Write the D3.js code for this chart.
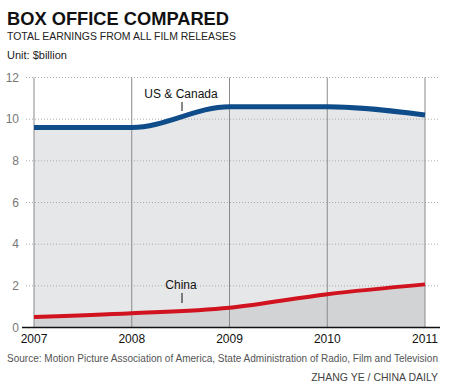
<!DOCTYPE html>
<html>
<head>
<meta charset="utf-8">
<script src="https://cdn.jsdelivr.net/npm/d3@7"></script>
<style>
  body { margin: 0; background: #fff; }
  svg { display: block; font-family: "Liberation Sans", Arial, sans-serif; }
</style>
</head>
<body>
<svg id="chart" width="450" height="387"></svg>
<script>
// data
var years = [2007, 2008, 2009, 2010, 2011];
var usCanada = [9.6, 9.6, 10.6, 10.6, 10.2];
var china = [0.5, 0.68, 0.95, 1.6, 2.07];
var yTicks = [0, 2, 4, 6, 8, 10, 12];

var svg = d3.select("#chart");

var x = d3.scaleLinear().domain([2007, 2011]).range([34, 425]);
var y = d3.scaleLinear().domain([0, 12]).range([327.5, 77.5]);

// headings
svg.append("text").attr("x", 7).attr("y", 25)
  .attr("font-size", 18).attr("font-weight", "bold").attr("fill", "#111")
  .attr("textLength", 222).attr("lengthAdjust", "spacingAndGlyphs")
  .text("BOX OFFICE COMPARED");
svg.append("text").attr("x", 7).attr("y", 39.5)
  .attr("font-size", 10.5).attr("fill", "#222")
  .attr("textLength", 229).attr("lengthAdjust", "spacingAndGlyphs")
  .text("TOTAL EARNINGS FROM ALL FILM RELEASES");
svg.append("text").attr("x", 7).attr("y", 59)
  .attr("font-size", 11).attr("fill", "#222")
  .text("Unit: $billion");

var usData = years.map(function(d, i) { return {year: d, v: usCanada[i]}; });
var cnData = years.map(function(d, i) { return {year: d, v: china[i]}; });

var area = d3.area()
  .x(function(d) { return x(d.year); })
  .y0(y(0))
  .y1(function(d) { return y(d.v); })
  .curve(d3.curveMonotoneX);
var line = d3.line()
  .x(function(d) { return x(d.year); })
  .y(function(d) { return y(d.v); })
  .curve(d3.curveMonotoneX);

svg.append("path").attr("d", area(usData)).attr("fill", "#e6e7e8");
svg.append("path").attr("d", area(cnData)).attr("fill", "#d2d3d5");

// dotted horizontal grid
svg.append("g").selectAll("line")
  .data(yTicks.filter(function(d) { return d > 0; }))
  .enter().append("line")
  .attr("x1", 26).attr("x2", 440)
  .attr("y1", function(d) { return y(d); })
  .attr("y2", function(d) { return y(d); })
  .attr("stroke", "#aaa").attr("stroke-width", 1)
  .attr("stroke-dasharray", "1,2");

// vertical year lines
svg.append("g").selectAll("line")
  .data(years)
  .enter().append("line")
  .attr("x1", function(d) { return x(d); })
  .attr("x2", function(d) { return x(d); })
  .attr("y1", y(12)).attr("y2", y(0))
  .attr("stroke", "#8a8a8a").attr("stroke-width", 1);

svg.append("path").attr("d", line(usData))
  .attr("fill", "none").attr("stroke", "#0f4c8a").attr("stroke-width", 5);
svg.append("path").attr("d", line(cnData))
  .attr("fill", "none").attr("stroke", "#d1121f").attr("stroke-width", 4);

// y labels
svg.append("g").selectAll("text")
  .data(yTicks)
  .enter().append("text")
  .attr("x", 19).attr("y", function(d) { return y(d) + 4; })
  .attr("text-anchor", "end").attr("font-size", 12).attr("fill", "#777")
  .text(function(d) { return d; });

// x axis
svg.append("line").attr("x1", 22).attr("x2", 440)
  .attr("y1", y(0)).attr("y2", y(0))
  .attr("stroke", "#111").attr("stroke-width", 1.5);
svg.append("g").selectAll("text")
  .data(years)
  .enter().append("text")
  .attr("x", function(d) { return x(d); })
  .attr("y", 343)
  .attr("text-anchor", "middle").attr("font-size", 12).attr("fill", "#111")
  .text(function(d) { return d; });

// series labels
svg.append("text").attr("x", 181).attr("y", 98)
  .attr("text-anchor", "middle").attr("font-size", 12).attr("fill", "#111")
  .text("US & Canada");
svg.append("line").attr("x1", 182).attr("x2", 182).attr("y1", 102).attr("y2", 111)
  .attr("stroke", "#111").attr("stroke-width", 1);
svg.append("text").attr("x", 181).attr("y", 289)
  .attr("text-anchor", "middle").attr("font-size", 12).attr("fill", "#111")
  .text("China");
svg.append("line").attr("x1", 182).attr("x2", 182).attr("y1", 293).attr("y2", 303)
  .attr("stroke", "#111").attr("stroke-width", 1);

// footer
svg.append("text").attr("x", 7).attr("y", 362)
  .attr("font-size", 10).attr("fill", "#555")
  .attr("textLength", 431).attr("lengthAdjust", "spacingAndGlyphs")
  .text("Source: Motion Picture Association of America, State Administration of Radio, Film and Television");
svg.append("text").attr("x", 438).attr("y", 381)
  .attr("text-anchor", "end").attr("font-size", 10.5).attr("fill", "#444")
  .text("ZHANG YE / CHINA DAILY");
</script>
</body>
</html>
